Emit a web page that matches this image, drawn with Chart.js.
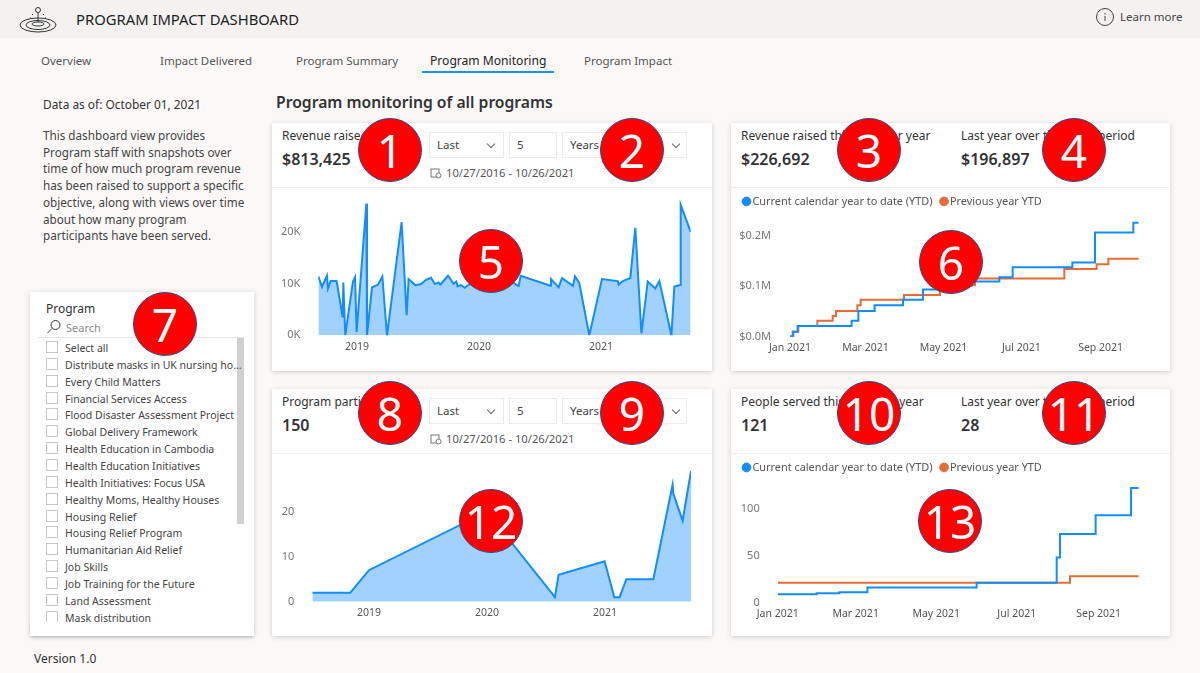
<!DOCTYPE html>
<html>
<head>
<meta charset="utf-8">
<title>Program Impact Dashboard</title>
<script src="https://cdn.jsdelivr.net/npm/chart.js@4"></script>
<style>
html, body { margin: 0; padding: 0; width: 1200px; height: 673px; overflow: hidden; background: #faf9f8; font-family: "Noto Sans", sans-serif; color: #252423; }
.t { position: absolute; white-space: nowrap; font-size: 12px; line-height: 16px; }
.tab { font-size: 11.5px; top: 53px; color: #555; }
.kpi { top: 128px; color: #333; }
.big { font-size: 16px; line-height: 18px; font-weight: 600; color: #333; }
.date { font-size: 11.2px; color: #555; }
.bar { position: absolute; left: 0; top: 0; width: 1200px; height: 38px; background: #f3f2f1; }
.card { position: absolute; background: #fff; box-shadow: 0 1px 5px rgba(0,0,0,.18); }
.line { position: absolute; height: 1px; background: #f0efee; }
.box { position: absolute; border: 1px solid #edebe9; background: #fff; box-sizing: border-box; height: 26px; font-size: 11.5px; line-height: 24px; padding-left: 7px; color: #444; }
.chev { position: absolute; width: 5px; height: 5px; border-right: 1px solid #666; border-bottom: 1px solid #666; transform: rotate(45deg); }
.chk { position: absolute; left: 46px; width: 12px; height: 12px; border: 1px solid #c8c6c4; box-sizing: border-box; background: #fff; }
canvas { position: absolute; }
.num { position: absolute; width: 62px; height: 62px; border-radius: 50%; background: #ff0000; border: 1px solid #2f4a8c; color: #fff; text-align: center; font-size: 46px; line-height: 62px; z-index: 5; }
</style>
</head>
<body>
<div class="bar"></div>
<svg style="position:absolute;left:18px;top:5px" width="40" height="28" viewBox="0 0 40 28" fill="none" stroke="#333" stroke-width="1">
  <ellipse cx="20" cy="20" rx="18" ry="7"/><ellipse cx="20" cy="20" rx="12" ry="4.5"/><ellipse cx="20" cy="19" rx="6" ry="2"/>
  <circle cx="20" cy="5" r="2.5"/><path d="M20 8v9M14 9l1 1M26 9l-1 1M12 13l1 0M28 13l-1 0"/>
</svg>
<div class="t" style="left:76px;top:11px;font-size:14.8px;color:#201f1e">PROGRAM IMPACT DASHBOARD</div>
<svg style="position:absolute;left:1095px;top:7px" width="20" height="20" viewBox="0 0 20 20" fill="none" stroke="#444"><circle cx="10" cy="10" r="8.5"/><path d="M10 9v5M10 6v1.5"/></svg>
<div class="t" style="left:1120px;top:9px;font-size:11.5px;color:#444">Learn more</div>

<div class="t tab" style="left:41px">Overview</div>
<div class="t tab" style="left:160px">Impact Delivered</div>
<div class="t tab" style="left:296px">Program Summary</div>
<div class="t tab" style="left:430px;font-size:12.1px;color:#252423">Program Monitoring</div>
<div style="position:absolute;left:422px;top:71px;width:132px;height:2px;background:#1f8fe8"></div>
<div class="t tab" style="left:584px">Program Impact</div>

<div class="t" style="left:43px;top:96px;font-size:11.9px;color:#333">Data as of: October 01, 2021</div>
<div class="t" style="left:43px;top:127px;font-size:11.7px;line-height:16.7px;color:#444">This dashboard view provides<br>Program staff with snapshots over<br>time of how much program revenue<br>has been raised to support a specific<br>objective, along with views over time<br>about how many program<br>participants have been served.</div>
<div class="t" style="left:276px;top:92px;font-size:15.7px;line-height:20px;font-weight:600;color:#333">Program monitoring of all programs</div>

<!-- slicer -->
<div class="card" style="left:30px;top:292px;width:224px;height:344px"></div>
<div class="t" style="left:46px;top:301px;color:#333">Program</div>
<svg style="position:absolute;left:46px;top:319px" width="16" height="16" viewBox="0 0 16 16" fill="none" stroke="#333"><circle cx="9.5" cy="6" r="4.5"/><path d="M6 9.5L1.5 14"/></svg>
<div class="t" style="left:66px;top:320px;color:#888;font-size:11px">Search</div>
<div class="line" style="left:38px;top:337px;width:206px;background:#e6e6e6"></div>
<div style="position:absolute;left:237px;top:338px;width:7px;height:186px;background:#d0d0d0"></div>
<div id="slicer"></div>
<div style="position:absolute;left:30px;top:622px;width:224px;height:14px;background:#fff;z-index:2;box-shadow:0 2px 3px -1px rgba(0,0,0,.18)"></div>
<div class="t" style="left:34px;top:651px;color:#333">Version 1.0</div>

<!-- cards -->
<div class="card" style="left:272px;top:123px;width:440px;height:248px"></div>
<div class="card" style="left:731px;top:123px;width:439px;height:248px"></div>
<div class="card" style="left:272px;top:389px;width:440px;height:247px"></div>
<div class="card" style="left:731px;top:389px;width:439px;height:247px"></div>
<div class="line" style="left:272px;top:187px;width:440px"></div>
<div class="line" style="left:731px;top:187px;width:439px"></div>
<div class="line" style="left:272px;top:453px;width:440px"></div>
<div class="line" style="left:731px;top:453px;width:439px"></div>

<div class="t kpi" style="left:282px">Revenue raised</div>
<div class="t big" style="left:282px;top:150px">$813,425</div>
<div class="box" style="left:429px;top:132px;width:75px">Last</div><div class="chev" style="left:488px;top:141px"></div>
<div class="box" style="left:509px;top:132px;width:48px">5</div>
<div class="box" style="left:562px;top:132px;width:125px">Years</div><div class="chev" style="left:673px;top:141px"></div>
<div class="t date" style="left:446px;top:165px">10/27/2016 - 10/26/2021</div>
<svg style="position:absolute;left:430px;top:167px" width="12" height="12" viewBox="0 0 12 12" fill="none" stroke="#777"><rect x="1" y="2" width="8" height="8"/><circle cx="8.5" cy="8.5" r="2.5" fill="#fff"/></svg>

<div class="t kpi" style="left:741px">Revenue raised this calendar year</div>
<div class="t big" style="left:741px;top:150px">$226,692</div>
<div class="t kpi" style="left:961px">Last year over the same period</div>
<div class="t big" style="left:961px;top:150px">$196,897</div>

<div class="t kpi" style="left:282px;top:394px">Program participants</div>
<div class="t big" style="left:282px;top:416px">150</div>
<div class="box" style="left:429px;top:398px;width:75px">Last</div><div class="chev" style="left:488px;top:407px"></div>
<div class="box" style="left:509px;top:398px;width:48px">5</div>
<div class="box" style="left:562px;top:398px;width:125px">Years</div><div class="chev" style="left:673px;top:407px"></div>
<div class="t date" style="left:446px;top:431px">10/27/2016 - 10/26/2021</div>
<svg style="position:absolute;left:430px;top:433px" width="12" height="12" viewBox="0 0 12 12" fill="none" stroke="#777"><rect x="1" y="2" width="8" height="8"/><circle cx="8.5" cy="8.5" r="2.5" fill="#fff"/></svg>

<div class="t kpi" style="left:741px;top:394px">People served this calendar year</div>
<div class="t big" style="left:741px;top:416px">121</div>
<div class="t kpi" style="left:961px;top:394px">Last year over the same period</div>
<div class="t big" style="left:961px;top:416px">28</div>

<canvas id="revenueChart" width="440" height="170" style="left:272px;top:190px"></canvas>
<canvas id="revenueYtdChart" width="435" height="175" style="left:735px;top:185px"></canvas>
<canvas id="peopleChart" width="440" height="170" style="left:272px;top:455px"></canvas>
<canvas id="peopleYtdChart" width="435" height="174" style="left:735px;top:451px"></canvas>

<div id="badges"></div>

<script>
const BLUE = "#118dff"
const ORANGE = "#e66c37"
const FILL = "rgba(17,141,255,0.4)"

// revenue over time (x = decimal year, y = dollars)
const revenueYears = [2018.683,2018.713,2018.754,2018.762,2018.784,2018.833,2018.883,2018.888,2018.904,2018.967,2018.984,2018.997,2019.077,2019.082,2019.123,2019.172,2019.208,2019.246,2019.366,2019.407,2019.423,2019.478,2019.525,2019.566,2019.607,2019.639,2019.669,2019.683,2019.746,2019.792,2019.814,2019.825,2019.852,2019.883,2019.915,2019.970,2020.052,2020.161,2020.270,2020.306,2020.325,2020.342,2020.585,2020.590,2020.653,2020.680,2020.770,2020.787,2020.822,2020.904,2021.008,2021.137,2021.145,2021.178,2021.240,2021.281,2021.331,2021.383,2021.445,2021.478,2021.577,2021.601,2021.650,2021.653,2021.735]
const revenueValues = [11430,9420,11560,9090,10520,10520,3510,10260,0,10450,11300,650,25580,0,9290,9810,11430,0,21950,3900,10910,9740,9940,10780,11170,9940,10260,9810,11560,10000,10450,9480,9740,9220,9810,10450,10780,11100,10450,9800,9600,11560,9610,10910,9290,11100,9610,11430,10130,0,10910,10520,9810,10520,11100,20840,390,10450,9090,10520,0,9480,9740,25320,20060]
const revenueYTicks = [0, 10000, 20000]

// participants over time (x = decimal year)
const peopleYears = [2018.520,2018.842,2019.000,2020.000,2020.576,2020.607,2020.997,2021.079,2021.124,2021.181,2021.410,2021.573,2021.579,2021.658,2021.729]
const peopleValues = [2,2,7,20,1,6,9,1,1,5,5,26,24,18,29]
const peopleYTicks = [0, 10, 20]

const yearTicks = [2019, 2020, 2021]

// YTD charts: x = day of the year, the value is what it jumps to on that day
const monthDays = [0, 59, 120, 181, 243]
const monthLabels = ["Jan 2021", "Mar 2021", "May 2021", "Jul 2021", "Sep 2021"]

const revCurrentDays = [0,2.6,6,48.2,53.5,66.2,88.4,104,122.6,142,163.8,174.2,220.9,238.6,268.6,272.8]
const revCurrentValues = [1000,9800,21000,31500,51000,62300,73400,93800,101600,109500,118000,137700,147500,206600,226200,226200]
const revPreviousDays = [0,2.1,6.5,21.4,33.4,36,52.7,55.3,89.2,117.3,133,144.7,214.6,239.9,249,272.8]
const revPreviousValues = [0,9800,21000,31500,41300,51000,62300,73400,82600,91800,102000,115400,134400,143600,154800,154800]
const revYTicks = [0, 100000, 200000]

const peopleCurrentDays = [0,29.5,46.7,67.9,150.6,211.2,213.7,240.7,267.5,273.3]
const peopleCurrentValues = [9,10,11,16,21,48,73,93,122,122]
const peoplePreviousDays = [0,221.3,273.3]
const peoplePreviousValues = [21,28,28]
const peopleYtdYTicks = [0, 50, 100]

const seriesNames = ["Current calendar year to date (YTD)", "Previous year YTD"]

const programs = ["Select all","Distribute masks in UK nursing ho...","Every Child Matters","Financial Services Access","Flood Disaster Assessment Project","Global Delivery Framework","Health Education in Cambodia","Health Education Initiatives","Health Initiatives: Focus USA","Healthy Moms, Healthy Houses","Housing Relief","Housing Relief Program","Humanitarian Aid Relief","Job Skills","Job Training for the Future","Land Assessment","Mask distribution"]

// slicer rows
let slicerHtml = ""
programs.forEach((name, i) => {
    let y = 340 + i * 16.85
    slicerHtml += "<div class='chk' style='top:" + (y + 1) + "px'></div><div class='t' style='left:65px;top:" + y + "px;font-size:10.5px;color:#444'>" + name + "</div>"
})
document.getElementById("slicer").innerHTML = slicerHtml

// numbered badges
const badges = [[1,390,150],[2,632,150],[3,869,150],[4,1074,150],[5,491,261],[6,951,262],[7,165,324],[8,390,413],[9,632,413],[10,869,413],[11,1074,413],[12,491,521],[13,950,521]]
let badgeHtml = ""
badges.forEach(b => {
    badgeHtml += "<div class='num' style='left:" + (b[1] - 32) + "px;top:" + (b[2] - 32) + "px'>" + b[0] + "</div>"
})
document.getElementById("badges").innerHTML = badgeHtml

function toPoints(xs, ys) {
    return xs.map((x, i) => ({ x: x, y: ys[i] }))
}

function makeChart(id, cfg) {
    return new Chart(document.getElementById(id), {
        type: "line",
        data: { datasets: cfg.datasets },
        options: {
            responsive: false,
            animation: false,
            layout: { autoPadding: false, padding: { right: cfg.right, top: 0, left: 0, bottom: 0 } },
            elements: { point: { radius: 0 }, line: { borderWidth: 2, tension: 0 } },
            plugins: {
                tooltip: { enabled: false },
                legend: cfg.legend ? {
                    display: true, position: "top", align: "start",
                    labels: {
                        usePointStyle: true, pointStyle: "circle", boxWidth: 1, boxHeight: 6.2, padding: 11,
                        color: "#555", font: { family: "Noto Sans", size: 10.9 }
                    }
                } : { display: false }
            },
            scales: {
                x: {
                    type: "linear", min: cfg.xMin, max: cfg.xMax,
                    grid: { display: false, drawTicks: false }, border: { display: false },
                    afterBuildTicks: s => { s.ticks = cfg.xTicks.map(v => ({ value: v })) },
                    afterFit: s => { s.height = cfg.xHeight },
                    ticks: {
                        autoSkip: false, maxRotation: 0, padding: 5, color: "#555",
                        font: { family: "Noto Sans", size: 10.5 },
                        callback: cfg.xLabel
                    }
                },
                y: {
                    min: 0, max: cfg.yMax,
                    grid: { display: false, drawTicks: false }, border: { display: false },
                    afterBuildTicks: s => { s.ticks = cfg.yTicks.map(v => ({ value: v })) },
                    afterFit: s => {
                        s.width = cfg.yWidth
                        s.paddingTop = 0
                        s.paddingBottom = 0
                    },
                    ticks: {
                        padding: cfg.yPad, color: "#777",
                        font: { family: "Noto Sans", size: 11 },
                        callback: cfg.yLabel
                    }
                }
            }
        }
    })
}

makeChart("revenueChart", {
    datasets: [{ data: toPoints(revenueYears, revenueValues), borderColor: BLUE, backgroundColor: FILL, fill: "origin" }],
    xMin: 2018.683, xMax: 2021.735, xTicks: yearTicks, xLabel: v => String(v), xHeight: 24.7,
    yMax: 28200, yTicks: revenueYTicks, yLabel: v => (v / 1000) + "K", yWidth: 46.3, yPad: 18, right: 21.3
})

makeChart("peopleChart", {
    datasets: [{ data: toPoints(peopleYears, peopleValues), borderColor: BLUE, backgroundColor: FILL, fill: "origin" }],
    xMin: 2018.52, xMax: 2021.729, xTicks: yearTicks, xLabel: v => String(v), xHeight: 23.3,
    yMax: 32.6, yTicks: peopleYTicks, yLabel: v => String(v), yWidth: 40.3, yPad: 18, right: 21
})

makeChart("revenueYtdChart", {
    legend: true,
    datasets: [
        { label: seriesNames[0], data: toPoints(revCurrentDays, revCurrentValues), borderColor: BLUE, backgroundColor: BLUE, stepped: true },
        { label: seriesNames[1], data: toPoints(revPreviousDays, revPreviousValues), borderColor: ORANGE, backgroundColor: ORANGE, stepped: true }
    ],
    xMin: 0, xMax: 272.8, xTicks: monthDays, xLabel: v => monthLabels[monthDays.indexOf(v)], xHeight: 23.3,
    yMax: 237800, yTicks: revYTicks, yLabel: v => "$" + (v / 1000000).toFixed(1) + "M", yWidth: 55, yPad: 19, right: 31.3
})

makeChart("peopleYtdChart", {
    legend: true,
    datasets: [
        { label: seriesNames[0], data: toPoints(peopleCurrentDays, peopleCurrentValues), borderColor: BLUE, backgroundColor: BLUE, stepped: true },
        { label: seriesNames[1], data: toPoints(peoplePreviousDays, peoplePreviousValues), borderColor: ORANGE, backgroundColor: ORANGE, stepped: true }
    ],
    xMin: 0, xMax: 273.3, xTicks: monthDays, xLabel: v => monthLabels[monthDays.indexOf(v)], xHeight: 22.4,
    yMax: 127.3, yTicks: peopleYtdYTicks, yLabel: v => String(v), yWidth: 42.7, yPad: 18, right: 31.3
})
</script>
</body>
</html>
